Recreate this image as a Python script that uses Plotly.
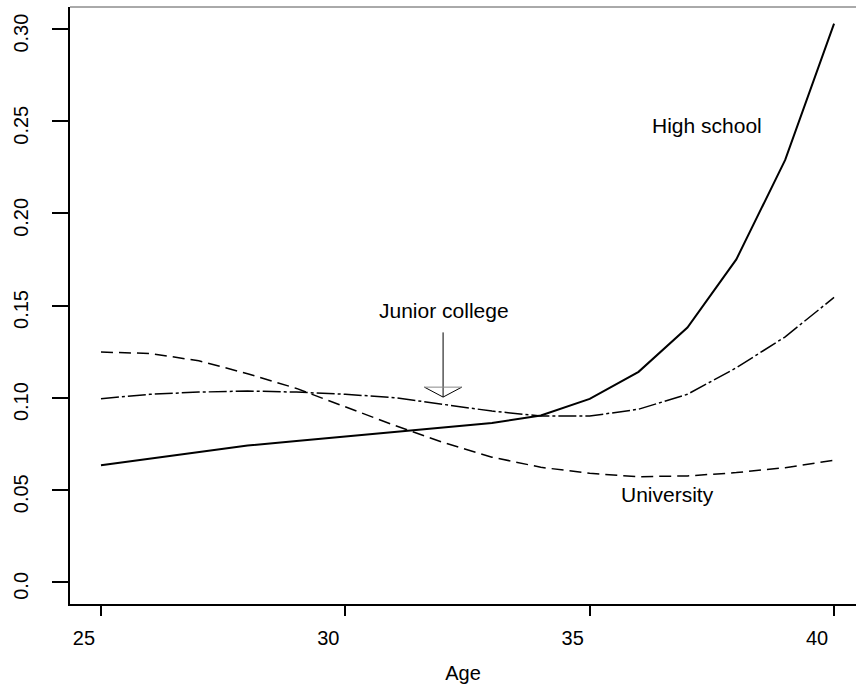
import plotly.graph_objects as go

ages = list(range(25, 41))
high_school = [0.0633, 0.0669, 0.0707, 0.0740, 0.0765, 0.0790, 0.0815, 0.0838,
               0.0862, 0.0903, 0.0993, 0.1140, 0.1380, 0.1750, 0.2290, 0.3030]
junior_college = [0.0994, 0.1018, 0.1030, 0.1036, 0.1030, 0.1018, 0.1000, 0.0962,
                  0.0927, 0.0900, 0.0900, 0.0937, 0.1018, 0.1162, 0.1330, 0.1544]
university = [0.1247, 0.1240, 0.1200, 0.1130, 0.1050, 0.0950, 0.0850, 0.0757,
              0.0677, 0.0622, 0.0589, 0.0571, 0.0575, 0.0593, 0.0620, 0.0660]

x_ticks = [25, 30, 35, 40]
y_ticks = [0.0, 0.05, 0.10, 0.15, 0.20, 0.25, 0.30]
y_tick_text = ["0.0", "0.05", "0.10", "0.15", "0.20", "0.25", "0.30"]

labels = ["High school", "Junior college", "University"]
label_x = [37.40, 32.02, 36.60]
label_y = [0.2475, 0.1475, 0.0475]

arrow_x = 32.0
arrow_tail = 0.1354
arrow_tip = 0.1003
arrow_head_y = 0.1057
arrow_half = 0.383

FONT = "Liberation Sans, Arial, Helvetica, sans-serif"

fig = go.Figure()
fig.add_trace(go.Scatter(x=ages, y=high_school, mode="lines",
                         line=dict(color="black", width=2), showlegend=False))
fig.add_trace(go.Scatter(x=ages, y=junior_college, mode="lines",
                         line=dict(color="black", width=1.5, dash="18px,3px,3px,3px"),
                         showlegend=False))
fig.add_trace(go.Scatter(x=ages, y=university, mode="lines",
                         line=dict(color="black", width=1.5, dash="12px,6px"),
                         showlegend=False))

for t, lx, ly in zip(labels, label_x, label_y):
    fig.add_annotation(x=lx, y=ly, text=t, showarrow=False,
                       font=dict(size=21, color="black", family=FONT),
                       xanchor="center", yanchor="middle")

# arrow pointing to Junior college line
fig.add_shape(type="line", x0=arrow_x, x1=arrow_x, y0=arrow_tail, y1=arrow_tip,
              line=dict(color="black", width=1))
fig.add_shape(type="path",
              path=f"M {arrow_x - arrow_half},{arrow_head_y} L {arrow_x},{arrow_tip} L {arrow_x + arrow_half},{arrow_head_y}",
              line=dict(color="black", width=1))
fig.add_shape(type="line", x0=arrow_x - arrow_half, x1=arrow_x + arrow_half,
              y0=arrow_head_y, y1=arrow_head_y, line=dict(color="#888888", width=1))

# top frame line
fig.add_shape(type="line", xref="paper", yref="paper", x0=0, x1=1, y0=1, y1=1,
              line=dict(color="#555555", width=1))

fig.update_layout(
    width=856, height=688,
    margin=dict(l=70, r=0, t=7, b=84),
    paper_bgcolor="white", plot_bgcolor="white",
    font=dict(family=FONT, size=20, color="black"),
    hovermode=False,
    xaxis=dict(range=[24.366, 40.449], tickvals=x_ticks, ticks="outside", ticklen=10,
               tickwidth=2, tickcolor="black", showline=True, linewidth=2, linecolor="black",
               showgrid=False, zeroline=False, ticklabelshift=-17, ticklabelstandoff=5,
               automargin=False, ticklabeloverflow="allow",
               tickfont=dict(size=20, family=FONT),
               title=dict(text="Age", font=dict(size=20, family=FONT), standoff=18)),
    yaxis=dict(range=[-0.012, 0.312], tickvals=y_ticks, ticktext=y_tick_text,
               ticks="outside", ticklen=16, tickwidth=1.5, tickcolor="black",
               showline=True, linewidth=2, linecolor="black", automargin=False,
               showgrid=False, zeroline=False, tickangle=-90, ticklabelshift=7,
               ticklabelstandoff=16, ticklabeloverflow="allow",
               tickfont=dict(size=20, family=FONT)),
)

fig.write_html("out.html", config={"displayModeBar": False},
               post_script="document.body.style.margin='0';")
